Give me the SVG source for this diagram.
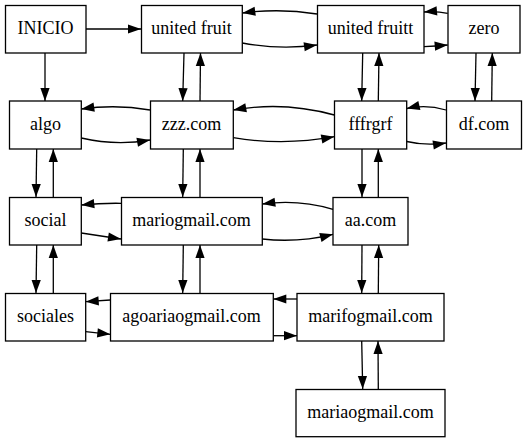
<svg xmlns="http://www.w3.org/2000/svg" width="527" height="443" viewBox="0 0 527 443">
<style>
.n rect{fill:#fff;stroke:#000;stroke-width:1.3}
.n text{font-family:'Liberation Serif','Times New Roman',serif;font-size:18px;text-anchor:middle;fill:#000}
#edges path{fill:none;stroke:#000;stroke-width:1.3;marker-end:url(#ah)}
</style>
<defs>
<marker id="ah" markerUnits="userSpaceOnUse" markerWidth="13" markerHeight="10" refX="13" refY="5" orient="auto" overflow="visible">
<path d="M0,0.4 L13,5 L0,9.6 z" fill="#000"/>
</marker>
</defs>
<rect width="527" height="443" fill="#fff"/>
<g id="edges">
<path d="M86,29 L141,29"/>
<path d="M45,53 L45,101"/>
<path d="M317,14 Q280,8 242.3,13"/>
<path d="M242.3,43 Q280,50 317,45"/>
<path d="M447.7,13.3 Q436,11 424,12"/>
<path d="M424,46.7 Q436,46 447.7,45"/>
<path d="M150,110 Q116,104 81.3,109"/>
<path d="M81.3,138 Q116,146 150,140"/>
<path d="M334.3,115 Q284,101 233.3,110"/>
<path d="M233.3,137.7 Q284,146 334.3,136.7"/>
<path d="M446,110 Q426,104 406.7,108.5"/>
<path d="M406.7,141.5 Q426,146 446,143"/>
<path d="M121,203.3 Q101,203 81.3,205"/>
<path d="M81.3,233 Q101,236 121,239"/>
<path d="M333,209.3 Q298,199 262.3,204"/>
<path d="M262.3,239 Q298,243 333,234.3"/>
<path d="M110.3,300 L85.7,301.7"/>
<path d="M85.7,331.7 L110.3,334.3"/>
<path d="M297,299 L273.3,299"/>
<path d="M273.3,335.7 L297,335.7"/>
<path d="M184,53 L182.7,101"/>
<path d="M200,101 L200.5,53"/>
<path d="M362.7,53 L361.7,101"/>
<path d="M378.3,101 L379,53"/>
<path d="M476,53 L475,101"/>
<path d="M491.7,101 L492.3,53"/>
<path d="M36.7,149 L36,197"/>
<path d="M53.3,197 L53.3,149"/>
<path d="M183.3,149 L182.7,197"/>
<path d="M200,197 L200,149"/>
<path d="M362,149 L362,197"/>
<path d="M378.3,197 L378.3,149"/>
<path d="M36.7,245 L36,293"/>
<path d="M53.3,293 L53.3,245"/>
<path d="M183.3,245 L182.7,293"/>
<path d="M200,293 L200,245"/>
<path d="M362,245 L361.7,293"/>
<path d="M378.3,293 L378.7,245"/>
<path d="M361.7,341 L362.7,389"/>
<path d="M378.3,389 L378,341"/>
</g>
<g id="INICIO" class="n"><rect x="5.5" y="5.5" width="80.5" height="47.5"/><text x="45.5" y="34" font-family="Liberation Serif, serif">INICIO</text></g>
<g id="united_fruit" class="n"><rect x="141.5" y="5.5" width="100.8" height="47.5"/><text x="191.5" y="34" font-family="Liberation Serif, serif">united fruit</text></g>
<g id="united_fruitt" class="n"><rect x="317.5" y="5.5" width="106.5" height="47.5"/><text x="370.5" y="34" font-family="Liberation Serif, serif">united fruitt</text></g>
<g id="zero" class="n"><rect x="448" y="5.5" width="72" height="47.5"/><text x="484" y="34" font-family="Liberation Serif, serif">zero</text></g>
<g id="algo" class="n"><rect x="9.5" y="101" width="71.8" height="48"/><text x="45.5" y="130" font-family="Liberation Serif, serif">algo</text></g>
<g id="zzz" class="n"><rect x="150.5" y="101" width="82.8" height="48"/><text x="191.5" y="130" font-family="Liberation Serif, serif">zzz.com</text></g>
<g id="fffrgrf" class="n"><rect x="334.5" y="101" width="72.2" height="48"/><text x="370.5" y="130" font-family="Liberation Serif, serif">fffrgrf</text></g>
<g id="dfcom" class="n"><rect x="446.5" y="101" width="75" height="48"/><text x="484" y="130" font-family="Liberation Serif, serif">df.com</text></g>
<g id="social" class="n"><rect x="9.5" y="197.5" width="71.8" height="47.5"/><text x="45.5" y="226" font-family="Liberation Serif, serif">social</text></g>
<g id="mariogmail" class="n"><rect x="121.5" y="197.5" width="140.8" height="47.5"/><text x="191.5" y="226" font-family="Liberation Serif, serif">mariogmail.com</text></g>
<g id="aacom" class="n"><rect x="333" y="197.5" width="75" height="47.5"/><text x="370.5" y="226" font-family="Liberation Serif, serif">aa.com</text></g>
<g id="sociales" class="n"><rect x="5.5" y="293.5" width="80.2" height="47.5"/><text x="45.5" y="322" font-family="Liberation Serif, serif">sociales</text></g>
<g id="agoariaogmail" class="n"><rect x="110.5" y="293.5" width="162.8" height="47.5"/><text x="191.5" y="322" font-family="Liberation Serif, serif">agoariaogmail.com</text></g>
<g id="marifogmail" class="n"><rect x="297" y="293.5" width="147" height="47.5"/><text x="370.5" y="322" font-family="Liberation Serif, serif">marifogmail.com</text></g>
<g id="mariaogmail" class="n"><rect x="296" y="389.5" width="149" height="47.2"/><text x="370.5" y="418" font-family="Liberation Serif, serif">mariaogmail.com</text></g>
</svg>
